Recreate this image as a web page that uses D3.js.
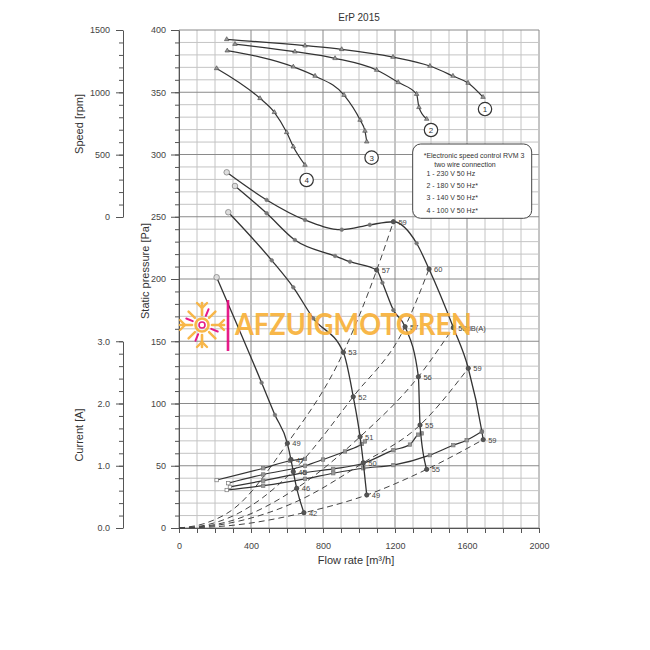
<!DOCTYPE html>
<html><head><meta charset="utf-8">
<script src="https://cdn.jsdelivr.net/npm/d3@7"></script>
<style>
body{margin:0;background:#fff}
svg{display:block}
text{font-family:"Liberation Sans",Arial,sans-serif}
</style>
</head><body>
<svg id="c" width="650" height="650"></svg>
<script>
// ---------- tick labels ----------
const flowTicks = [0, 400, 800, 1200, 1600, 2000];
const pressureTicks = [0, 50, 100, 150, 200, 250, 300, 350, 400];
const speedTicks = [0, 500, 1000, 1500];
const currentTicks = [0, 1, 2, 3];

// ---------- speed curves [flow m3/h, rpm] ----------
const speed1 = [[265,1425],[700,1374],[904,1345],[1189,1283],[1394,1211],[1522,1131],[1606,1075],[1689,962]];
const speed2 = [[311,1387],[644,1326],[867,1273],[1098,1179],[1218,1080],[1320,986],[1333,880],[1376,786]];
const speed3 = [[268,1334],[635,1205],[756,1131],[917,978],[1006,778],[1033,690],[1043,604]];
const speed4 = [[209,1192],[450,952],[530,840],[598,679],[635,564],[700,417]];
const speedLabels = [["1",1700,866],["2",1400,698],["3",1070,476],["4",709,297]];

// ---------- static pressure curves [flow, Pa] ----------
const pressure1 = [[265,285.7],[487,263.5],[700,247.4],[904,239.6],[1060,243.5],[1191,246],[1320,228.7],[1389,208],[1524,161],[1607,128.3],[1683,77.3],[1690,71]];
const pressure2 = [[311,274.7],[487,252.8],[644,231.3],[867,218.5],[950,213.9],[1098,207.2],[1130,197],[1191,175],[1256,161.7],[1330,121.5],[1339,82.7],[1376,47.1]];
const pressure3 = [[274,253.6],[515,215],[635,193.3],[746,168.4],[913,141.1],[968,105.5],[1006,73.3],[1024,52.4],[1043,26.5]];
const pressure4 = [[209,201.4],[459,116.7],[533,90.8],[602,68],[622,55],[635,45.2],[654,31.9],[694,12.3]];

// sound level labels on operating points [flow, Pa, text]
const levels1 = [[1191,246,"59"],[1389,208,"60"],[1524,161,"58dB(A)"],[1607,128.3,"59"],[1690,71,"59"]];
const levels2 = [[1098,207.2,"57"],[1256,161.7,"57"],[1330,121.5,"56"],[1339,82.7,"55"],[1376,47.1,"55"]];
const levels3 = [[913,141.1,"53"],[968,105.5,"52"],[1006,73.3,"51"],[1024,52.4,"50"],[1043,26.5,"49"]];
const levels4 = [[602,68,"49"],[622,55,"47"],[635,45.2,"45"],[654,31.9,"46"],[694,12.3,"42"]];

// ---------- system curves (dashed) [flow, Pa] ----------
const system1 = [[0,0],[150,4],[300,15],[602,68],[913,141],[1098,207],[1191,246]];
const system2 = [[0,0],[150,2.4],[300,9.7],[628,45],[968,105.5],[1256,161.7],[1389,208]];
const system3 = [[0,0],[150,1.6],[300,6.2],[654,32],[1006,73.3],[1330,121.5],[1524,161]];
const system4 = [[0,0],[150,1.1],[300,4.5],[672,22.5],[1024,52.4],[1339,82.7],[1607,128.3]];
const system5 = [[0,0],[150,0.6],[300,2.2],[694,12.3],[1043,26.5],[1376,47.1],[1690,71]];

// ---------- current curves [flow, A] ----------
const current1 = [[265,0.61],[468,0.68],[700,0.79],[857,0.88],[1024,0.96],[1191,1.01],[1394,1.17],[1524,1.33],[1598,1.41],[1682,1.55]];
const current2 = [[283,0.66],[468,0.76],[700,0.89],[857,0.95],[1024,1.04],[1191,1.25],[1283,1.34],[1329,1.50],[1348,1.52]];
const current3 = [[274,0.72],[468,0.86],[700,1.0],[800,1.1],[922,1.23],[1015,1.35],[1033,1.39]];
const current4 = [[209,0.77],[468,0.96],[617,1.08],[700,1.11]];

// ---------- legend ----------
const legendHead = ["*Electronic speed control RVM 3", "two wire connection"];
const legendItems = ["1 - 230 V 50 Hz", "2 - 180 V 50 Hz*", "3 - 140 V 50 Hz*", "4 - 100 V 50 Hz*"];

// ---------- scales ----------
const x = d3.scaleLinear([0, 2000], [179, 539]);
const yP = d3.scaleLinear([0, 400], [528, 30]);
const yS = d3.scaleLinear([0, 1500], [217, 30]);
const yI = d3.scaleLinear([0, 3], [528, yP(150)]);

const svg = d3.select("#c");

// ---------- grid ----------
const grid = svg.append("g");
grid.selectAll("line.v").data(x.ticks(20)).join("line")
  .attr("x1", d => x(d)).attr("x2", d => x(d)).attr("y1", yP(0)).attr("y2", yP(400))
  .attr("stroke", d => d % 400 === 0 ? "#8a8a8a" : "#c4c4c4").attr("stroke-width", 1);
grid.selectAll("line.h").data(yP.ticks(40)).join("line")
  .attr("y1", d => yP(d)).attr("y2", d => yP(d)).attr("x1", x(0)).attr("x2", x(2000))
  .attr("stroke", d => d % 50 === 0 ? "#8a8a8a" : "#c4c4c4").attr("stroke-width", 1);

// ---------- axes ----------
const fmtInt = d3.format("d");
function styleAxis(g) {
  g.selectAll("path.domain").attr("stroke", "#555");
  g.selectAll("line").attr("stroke", "#555");
  g.selectAll("text").style("fill", "#444").style("font-size", "9px").style("font-family", '"Liberation Sans",Arial,sans-serif');
}
// x
svg.append("g").attr("transform", `translate(0,${yP(0)})`)
  .call(d3.axisBottom(x).ticks(20).tickSize(5).tickSizeOuter(0).tickFormat("")).call(styleAxis);
svg.append("g").attr("transform", `translate(0,${yP(0)})`)
  .call(d3.axisBottom(x).tickValues(flowTicks).tickSize(5).tickSizeOuter(0).tickPadding(10).tickFormat(fmtInt)).call(styleAxis)
  .select("path.domain").remove();
// pressure
svg.append("g").attr("transform", `translate(${x(0)},0)`)
  .call(d3.axisLeft(yP).ticks(40).tickSize(4).tickSizeOuter(0).tickFormat("")).call(styleAxis);
svg.append("g").attr("transform", `translate(${x(0)},0)`)
  .call(d3.axisLeft(yP).tickValues(pressureTicks).tickSize(8).tickSizeOuter(0).tickPadding(5).tickFormat(fmtInt)).call(styleAxis)
  .select("path.domain").remove();
// speed
svg.append("g").attr("transform", "translate(123,0)")
  .call(d3.axisLeft(yS).ticks(15).tickSize(4).tickSizeOuter(0).tickFormat("")).call(styleAxis);
svg.append("g").attr("transform", "translate(123,0)")
  .call(d3.axisLeft(yS).tickValues(speedTicks).tickSize(7).tickSizeOuter(0).tickPadding(6).tickFormat(fmtInt)).call(styleAxis)
  .select("path.domain").remove();
// current
svg.append("g").attr("transform", "translate(123,0)")
  .call(d3.axisLeft(yI).ticks(15).tickSize(4).tickSizeOuter(0).tickFormat("")).call(styleAxis);
svg.append("g").attr("transform", "translate(123,0)")
  .call(d3.axisLeft(yI).tickValues(currentTicks).tickSize(7).tickSizeOuter(0).tickPadding(6).tickFormat(d3.format(".1f"))).call(styleAxis)
  .select("path.domain").remove();

// ---------- axis titles ----------
const title = (sel) => sel.style("fill", "#333");
svg.append("text").attr("x", 359).attr("y", 21).attr("text-anchor", "middle").style("font-size", "10px").call(title).text("ErP 2015");
svg.append("text").attr("x", 356).attr("y", 564).attr("text-anchor", "middle").style("font-size", "11px").call(title).text("Flow rate [m³/h]");
svg.append("text").attr("transform", "translate(83,124) rotate(-90)").attr("text-anchor", "middle").style("font-size", "11px").call(title).text("Speed [rpm]");
svg.append("text").attr("transform", "translate(83,435) rotate(-90)").attr("text-anchor", "middle").style("font-size", "11px").call(title).text("Current [A]");
svg.append("text").attr("transform", "translate(149,271) rotate(-90)").attr("text-anchor", "middle").style("font-size", "11px").call(title).text("Static pressure [Pa]");

// ---------- dashed system curves ----------
const lineP = d3.line().x(d => x(d[0])).y(d => yP(d[1])).curve(d3.curveMonotoneX);
svg.append("g").selectAll("path").data([system1, system2, system3, system4, system5]).join("path")
  .attr("d", lineP).attr("fill", "none").attr("stroke", "#444").attr("stroke-width", 1)
  .attr("stroke-dasharray", "6,4");

// ---------- current curves ----------
const lineI = d3.line().x(d => x(d[0])).y(d => yI(d[1])).curve(d3.curveMonotoneX);
const currents = [current1, current2, current3, current4];
svg.append("g").selectAll("path").data(currents).join("path")
  .attr("d", lineI).attr("fill", "none").attr("stroke", "#333").attr("stroke-width", 1.2);
currents.forEach(c => {
  svg.append("g").selectAll("rect").data(c).join("rect")
    .attr("x", d => x(d[0]) - 1.7).attr("y", d => yI(d[1]) - 1.7).attr("width", 3.4).attr("height", 3.4)
    .attr("fill", (d, i) => i === 0 ? "#fff" : "#999").attr("stroke", "#777").attr("stroke-width", 0.7);
});

// ---------- pressure curves ----------
const pressures = [pressure1, pressure2, pressure3, pressure4];
svg.append("g").selectAll("path").data(pressures).join("path")
  .attr("d", lineP).attr("fill", "none").attr("stroke", "#333").attr("stroke-width", 1.3);
pressures.forEach(p => {
  svg.append("g").selectAll("circle").data(p).join("circle")
    .attr("cx", d => x(d[0])).attr("cy", d => yP(d[1])).attr("r", (d, i) => i === 0 ? 2.8 : 1.8)
    .attr("fill", (d, i) => i === 0 ? "#ddd" : "#777").attr("stroke", "#777").attr("stroke-width", 0.7);
});
[levels1, levels2, levels3, levels4].forEach(l => {
  const g = svg.append("g");
  g.selectAll("circle").data(l).join("circle")
    .attr("cx", d => x(d[0])).attr("cy", d => yP(d[1])).attr("r", 2.2)
    .attr("fill", "#555").attr("stroke", "#444").attr("stroke-width", 0.6);
  g.selectAll("text").data(l).join("text")
    .attr("x", d => x(d[0]) + 5).attr("y", d => yP(d[1]) + 3)
    .style("font-size", "7.5px").style("fill", "#444").text(d => d[2]);
});

// ---------- speed curves ----------
const lineS = d3.line().x(d => x(d[0])).y(d => yS(d[1])).curve(d3.curveMonotoneX);
const speeds = [speed1, speed2, speed3, speed4];
svg.append("g").selectAll("path").data(speeds).join("path")
  .attr("d", lineS).attr("fill", "none").attr("stroke", "#333").attr("stroke-width", 1.2);
const tri = d3.symbol().type(d3.symbolTriangle).size(9);
speeds.forEach(s => {
  svg.append("g").selectAll("path").data(s).join("path")
    .attr("d", tri).attr("transform", d => `translate(${x(d[0])},${yS(d[1])})`)
    .attr("fill", "#999").attr("stroke", "#444").attr("stroke-width", 0.6);
});
const sl = svg.append("g").selectAll("g").data(speedLabels).join("g")
  .attr("transform", d => `translate(${x(d[1])},${yS(d[2])})`);
sl.append("circle").attr("r", 6.7).attr("fill", "#fff").attr("stroke", "#333").attr("stroke-width", 1.2);
sl.append("text").attr("text-anchor", "middle").attr("y", 3).style("font-size", "8px").style("fill", "#333").text(d => d[0]);

// ---------- legend ----------
const lg = svg.append("g");
lg.append("rect").attr("x", 412.7).attr("y", 144).attr("width", 119).attr("height", 74.3).attr("rx", 8)
  .attr("fill", "#fff").attr("stroke", "#444").attr("stroke-width", 1);
lg.selectAll("text.h").data(legendHead).join("text")
  .attr("x", (d, i) => i === 0 ? 474 : 465).attr("y", (d, i) => 158 + i * 8.7)
  .attr("text-anchor", "middle").style("font-size", "7px").style("fill", "#333").text(d => d);
lg.selectAll("text.i").data(legendItems).join("text")
  .attr("x", 426.5).attr("y", (d, i) => 176 + i * 12.2)
  .style("font-size", "7px").style("fill", "#333").text(d => d);

// ---------- watermark ----------
const orange = "#F8B13A", magenta = "#E5097F";
const wm = svg.append("g").attr("opacity", 0.92);
const logo = wm.append("g").attr("transform", "translate(202,325)");
logo.append("circle").attr("r", 6.5).attr("fill", "none").attr("stroke", orange).attr("stroke-width", 2.6);
logo.append("circle").attr("r", 3).attr("fill", "none").attr("stroke", magenta).attr("stroke-width", 1.6);
[0, 90, 180, 270].forEach(a => {
  const g = logo.append("g").attr("transform", `rotate(${a})`);
  g.append("line").attr("x1", 0).attr("y1", -10).attr("x2", 0).attr("y2", -22).attr("stroke", orange).attr("stroke-width", 2.6).attr("stroke-linecap", "round");
  g.append("polyline").attr("points", "-5,-22 0,-17 5,-22").attr("fill", "none").attr("stroke", orange).attr("stroke-width", 2.4).attr("stroke-linecap", "round");
});
[45, 135, 225, 315].forEach(a => {
  const g = logo.append("g").attr("transform", `rotate(${a})`);
  g.append("line").attr("x1", 0).attr("y1", -10).attr("x2", 0).attr("y2", -19).attr("stroke", orange).attr("stroke-width", 2.4).attr("stroke-linecap", "round");
});
[22.5, 112.5, 202.5, 292.5].forEach(a => {
  const g = logo.append("g").attr("transform", `rotate(${a})`);
  g.append("line").attr("x1", 0).attr("y1", -10).attr("x2", 0).attr("y2", -17).attr("stroke", magenta).attr("stroke-width", 2).attr("stroke-linecap", "round");
});
wm.append("line").attr("x1", 228).attr("x2", 228).attr("y1", 300).attr("y2", 351).attr("stroke", magenta).attr("stroke-width", 2.6);
wm.append("text").attr("x", 235).attr("y", 335).attr("textLength", 237).attr("lengthAdjust", "spacingAndGlyphs")
  .style("font-family", "Lato, 'Open Sans', sans-serif").style("font-weight", "700").style("font-size", "30px")
  .style("fill", orange).text("AFZUIGMOTOREN");
</script>
</body></html>
